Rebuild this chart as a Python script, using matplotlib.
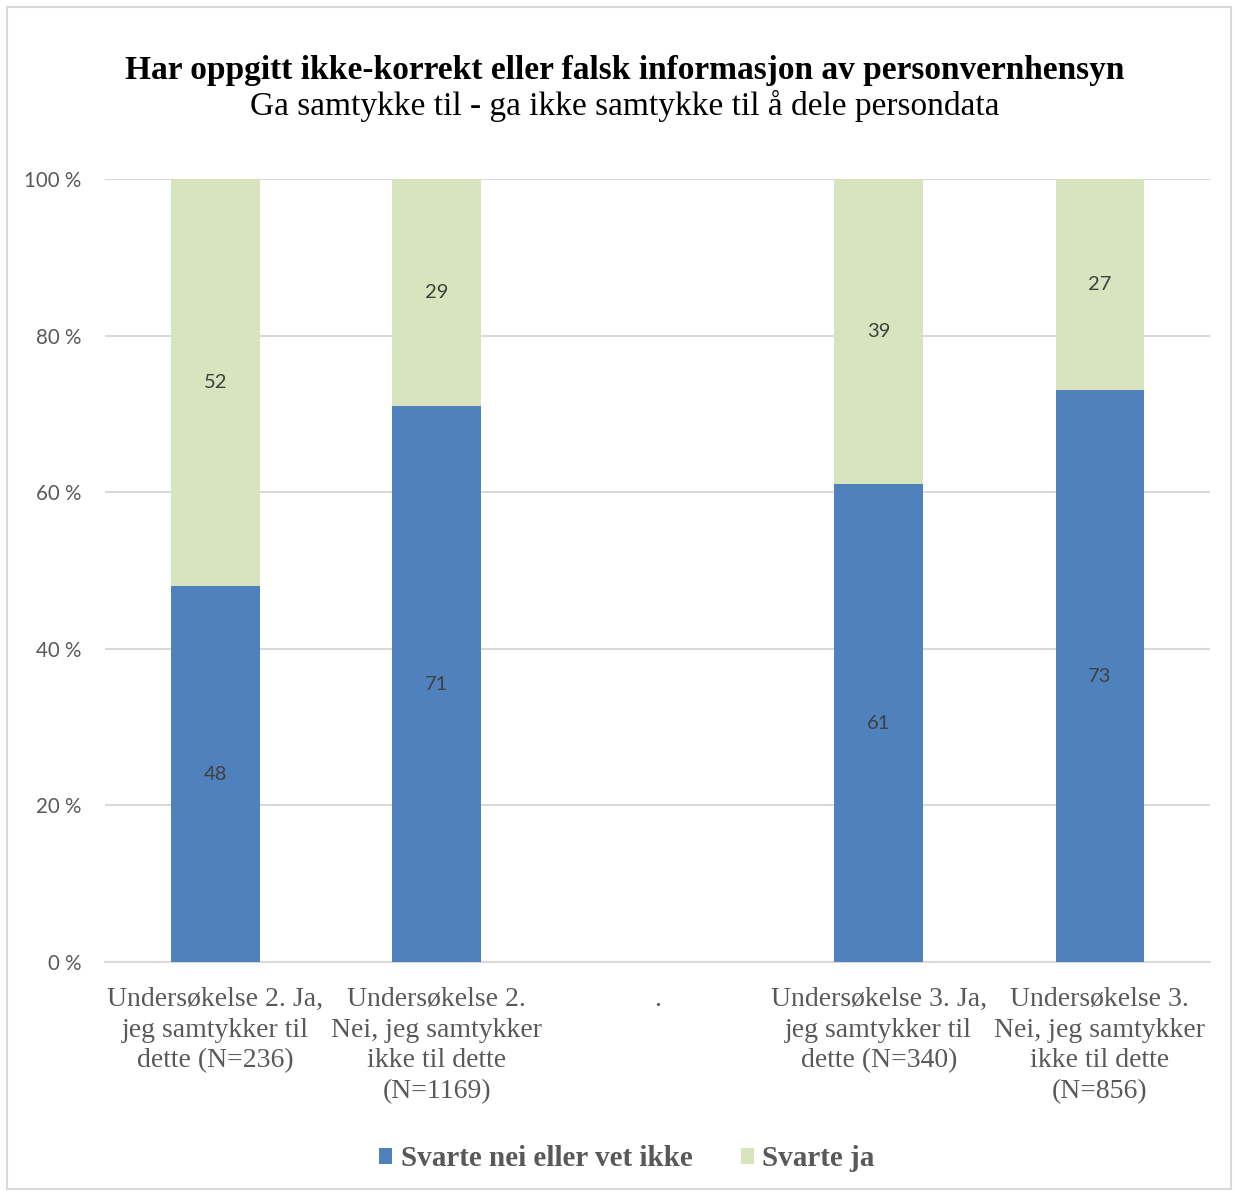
import matplotlib
matplotlib.use("Agg")
import matplotlib.pyplot as plt
from matplotlib.patches import Rectangle
import numpy as np

categories = [
    "Undersøkelse 2. Ja,\njeg samtykker til\ndette (N=236)",
    "Undersøkelse 2.\nNei, jeg samtykker\nikke til dette\n(N=1169)",
    ".",
    "Undersøkelse 3. Ja,\njeg samtykker til\ndette (N=340)",
    "Undersøkelse 3.\nNei, jeg samtykker\nikke til dette\n(N=856)",
]
svarte_nei = [48, 71, np.nan, 61, 73]
svarte_ja = [52, 29, np.nan, 39, 27]
series_names = ["Svarte nei eller vet ikke", "Svarte ja"]
yticks = [0, 20, 40, 60, 80, 100]

blue = "#4F81BD"
green = "#D7E4BD"
grid = "#D9D9D9"
txt = "#595959"

fig = plt.figure(figsize=(12.35, 11.91), dpi=100)
fig.patches.append(Rectangle((0.006, 0.002), 0.991, 0.992, transform=fig.transFigure,
                             fill=False, edgecolor="#D9D9D9", linewidth=1.5))
ax = fig.add_axes([0.085, 0.1923, 0.895, 0.6574])

x = np.arange(len(categories))
nei = np.array(svarte_nei, dtype=float)
ja = np.array(svarte_ja, dtype=float)
ax.bar(x, nei, width=0.4, color=blue, zorder=3, label=series_names[0])
ax.bar(x, ja, width=0.4, bottom=nei, color=green, zorder=3, label=series_names[1])

for i in range(len(x)):
    if not np.isnan(nei[i]):
        ax.text(x[i], nei[i] / 2, f"{int(nei[i])}", ha="center", va="center",
                fontsize=14.5, color="#404040", family="Lato", zorder=4)
        ax.text(x[i], nei[i] + ja[i] / 2, f"{int(ja[i])}", ha="center", va="center",
                fontsize=14.5, color="#404040", family="Lato", zorder=4)

ax.set_xlim(-0.5, len(categories) - 0.5)
ax.set_ylim(0, 100)
ax.set_yticks(yticks)
ax.set_yticklabels([f"{v} %" for v in yticks], family="Lato", fontsize=14.8, color=txt)
ax.yaxis.grid(True, color=grid, linewidth=1.5, zorder=0)
ax.tick_params(axis="y", length=0, pad=17)
ax.tick_params(axis="x", length=0, pad=18)
ax.set_xticks(x)
ax.set_xticklabels(categories, family="Liberation Serif", fontsize=20, color=txt,
                   linespacing=1.3, va="top")
for s in ["top", "right", "left"]:
    ax.spines[s].set_visible(False)
ax.spines["bottom"].set_color(grid)
ax.spines["bottom"].set_linewidth(1.5)

fig.text(0.506, 0.9405, "Har oppgitt ikke-korrekt eller falsk informasjon av personvernhensyn",
         ha="center", va="center", family="Liberation Serif", fontweight="bold",
         fontsize=24, color="black")
fig.text(0.506, 0.911, "Ga samtykke til - ga ikke samtykke til å dele persondata",
         ha="center", va="center", family="Liberation Serif", fontsize=24, color="black")

handles, labels = ax.get_legend_handles_labels()
leg = fig.legend(handles, labels, loc="center", bbox_to_anchor=(0.5075, 0.027), ncol=2,
                 frameon=False, prop={"family": "Liberation Serif", "weight": "bold", "size": 21},
                 handlelength=0.45, handleheight=0.45, handletextpad=0.3, columnspacing=1.65)
for t in leg.get_texts():
    t.set_color(txt)

fig.savefig("out.png", dpi=100)
